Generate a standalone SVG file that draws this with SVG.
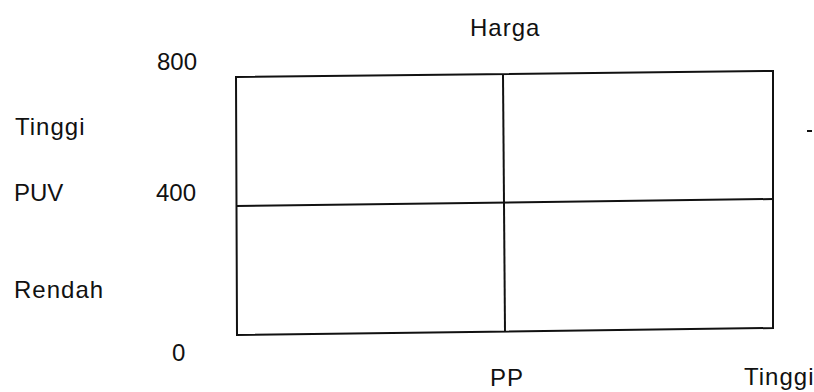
<svg xmlns="http://www.w3.org/2000/svg" width="814" height="392" viewBox="0 0 814 392">
<style>
text{font-family:"Liberation Sans",Arial,sans-serif;font-size:24px;fill:#111}
.w{letter-spacing:1px}
.ln{stroke:#111;stroke-width:2;fill:none}
</style>
<rect width="814" height="392" fill="#fff"/>
<g id="labels">
<text class="w" x="470" y="36">Harga</text>
<text x="157" y="70">800</text>
<text class="w" x="15" y="135">Tinggi</text>
<text x="14" y="201">PUV</text>
<text x="156" y="201">400</text>
<text class="w" x="14" y="298">Rendah</text>
<text x="172" y="361">0</text>
<text class="w" x="490" y="386">PP</text>
<text class="w" x="744" y="385">Tinggi</text>
</g>
<g id="grid">
<path class="ln" d="M236,77 L773,71 L773,328 L237,335 Z"/>
<path class="ln" d="M236,206 L773,199"/>
<path class="ln" d="M503,75 L505,332"/>
<path class="ln" d="M807,131 L812,131"/>
</g>
</svg>
